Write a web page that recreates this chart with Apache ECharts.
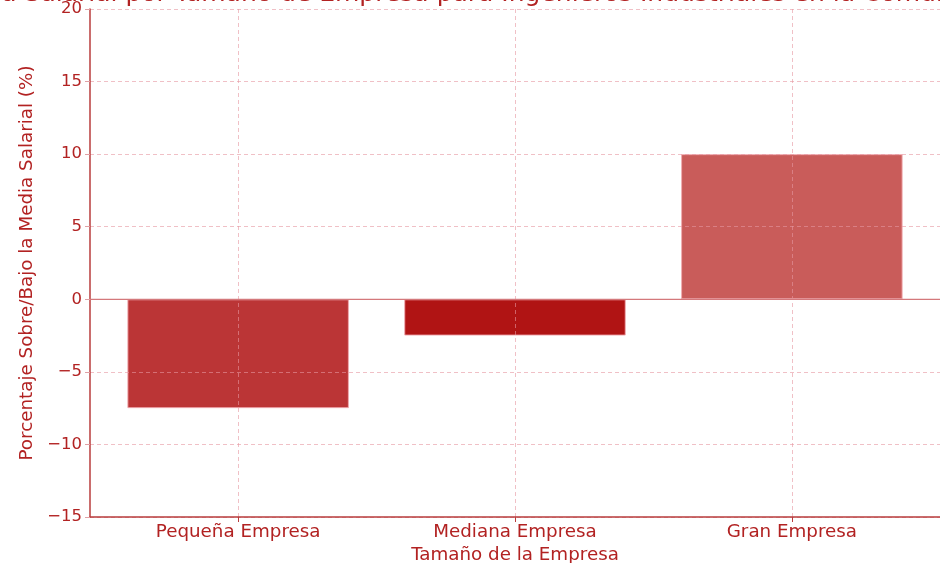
<!DOCTYPE html>
<html>
<head>
<meta charset="utf-8">
<script src="https://cdn.jsdelivr.net/npm/echarts@6/dist/echarts.min.js"></script>
<style>
  html, body { margin: 0; padding: 0; background: #ffffff; }
  #chart { width: 940px; height: 563px; }
</style>
</head>
<body>
<div id="chart"></div>
<script>
// Company-size categories and their salary deviation from the mean (%)
const categories = ['Pequeña Empresa', 'Mediana Empresa', 'Gran Empresa'];
const deviations = [-7.5, -2.5, 10];
const barColors = ['#bb3536', '#b01414', '#c95c5a'];
const yTicks = [-15, -10, -5, 0, 5, 10, 15, 20];

const titleText = 'Diferencia Salarial por Tamaño de Empresa para Ingenieros Industriales en la Comunidad de Madrid';
const xName = 'Tamaño de la Empresa';
const yName = 'Porcentaje Sobre/Bajo la Media Salarial (%)';

const red = '#b22222';
const font = 'DejaVu Sans';
const gridColor = 'rgba(230, 150, 160, 0.6)';

// x range in category units, with a margin around the outer bars
const xMin = -0.535;
const xMax = 2.535;

const chart = echarts.init(document.getElementById('chart'), null, { renderer: 'canvas' });

chart.setOption({
  animation: false,
  title: {
    text: titleText,
    left: 509,
    textAlign: 'center',
    top: -23,
    textStyle: { color: red, fontFamily: font, fontSize: 25, fontWeight: 'normal' }
  },
  grid: { left: 90, right: 0, top: 9, bottom: 46, containLabel: false, outerBoundsMode: 'none' },
  xAxis: {
    type: 'value',
    min: xMin,
    max: xMax,
    z: 3,
    name: xName,
    nameLocation: 'middle',
    nameGap: 29,
    nameTextStyle: { color: red, fontFamily: font, fontSize: 18.3 },
    axisLine: { show: true, onZero: false, lineStyle: { color: '#b83c3c', width: 1.5 } },
    axisTick: { show: true, customValues: [0, 1, 2], length: 5, lineStyle: { color: '#b83c3c' } },
    axisLabel: {
      customValues: [0, 1, 2],
      formatter: v => categories[Math.round(v)],
      color: red, fontFamily: font, fontSize: 18.3, margin: 6
    },
    splitLine: { show: true, lineStyle: { color: gridColor, type: [4, 3], width: 1 } }
  },
  yAxis: {
    type: 'value',
    min: yTicks[0],
    max: yTicks[yTicks.length - 1],
    interval: 5,
    z: 3,
    name: yName,
    nameLocation: 'middle',
    nameGap: 49,
    nameTextStyle: { color: red, fontFamily: font, fontSize: 18.3 },
    axisLine: { show: true, onZero: false, lineStyle: { color: '#b83c3c', width: 1.5 } },
    axisTick: { show: true, length: 5, lineStyle: { color: '#e0a0a4' } },
    axisLabel: {
      color: red, fontFamily: font, fontSize: 16.5, margin: 8,
      formatter: v => (v < 0 ? '\u2212' + Math.abs(v) : String(v))
    },
    splitLine: { show: true, lineStyle: { color: gridColor, type: [4, 3], width: 1 } }
  },
  series: [{
    type: 'bar',
    barWidth: '80%',
    data: categories.map((c, i) => ({
      value: [i, deviations[i]],
      itemStyle: { color: barColors[i], borderColor: 'rgba(240, 170, 175, 0.9)', borderWidth: 1 }
    }))
  }, {
    // reference line at 0 %
    type: 'line',
    silent: true,
    symbol: 'none',
    z: 4,
    lineStyle: { color: '#d4787b', width: 1.2 },
    data: [[xMin, 0], [xMax, 0]]
  }]
});
</script>
</body>
</html>
